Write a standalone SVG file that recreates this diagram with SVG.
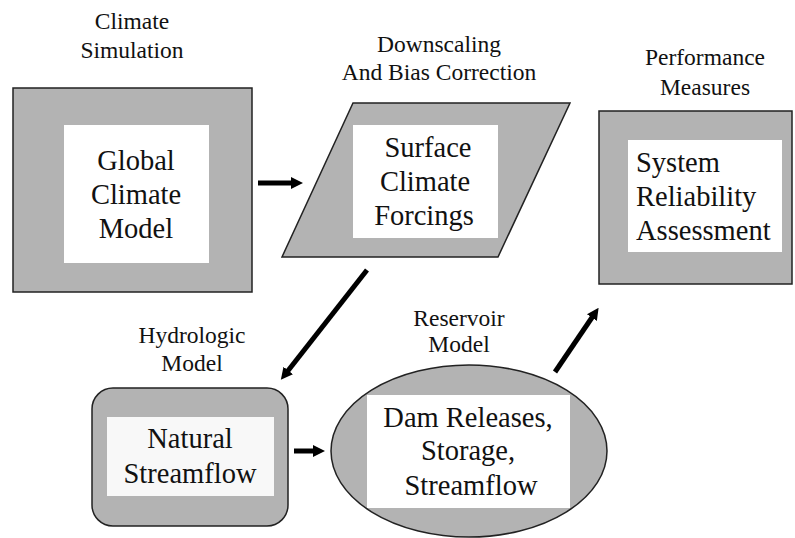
<svg xmlns="http://www.w3.org/2000/svg" width="795" height="538" viewBox="0 0 795 538">
<style>
.shape{fill:#b3b3b3;stroke:#222;stroke-width:1.5}
.inner{fill:#ffffff;stroke:none}
text{font-family:'Liberation Serif','DejaVu Serif','Noto Serif',serif;fill:#111}
.main{font-size:28.5px}
.lbl{font-size:23.5px;text-anchor:middle}
.c{text-anchor:middle}
.arrow{stroke:#000;stroke-width:5;fill:none;marker-end:url(#ah)}
</style>
<defs>
<marker id="ah" viewBox="0 0 12 12" markerWidth="12" markerHeight="12" markerUnits="userSpaceOnUse" refX="2" refY="6" orient="auto">
<path d="M0,0 L12,6 L0,12 z" fill="#000"/>
</marker>
</defs>
<rect width="795" height="538" fill="#fff"/>

<g id="gcm">
<rect class="shape" x="13" y="88" width="239" height="204"/>
<rect class="inner" x="64" y="125" width="145" height="138"/>
<text class="main c" x="136" y="170">Global</text>
<text class="main c" x="136" y="204">Climate</text>
<text class="main c" x="136" y="238">Model</text>
<text class="lbl" x="132" y="29">Climate</text>
<text class="lbl" x="132" y="58">Simulation</text>
</g>

<g id="scf">
<polygon class="shape" points="353,103 570,103 498,257 282,257"/>
<rect class="inner" x="353" y="125" width="145" height="113"/>
<text class="main c" x="428" y="157">Surface</text>
<text class="main c" x="425" y="191">Climate</text>
<text class="main c" x="424" y="225">Forcings</text>
<text class="lbl" x="439" y="52">Downscaling</text>
<text class="lbl" x="439" y="80">And Bias Correction</text>
</g>

<g id="perf">
<rect class="shape" x="599" y="111" width="193" height="173"/>
<rect class="inner" x="628" y="140" width="154" height="112"/>
<text class="main" x="636" y="172">System</text>
<text class="main" x="636" y="206">Reliability</text>
<text class="main" x="636" y="240">Assessment</text>
<text class="lbl" x="705" y="65">Performance</text>
<text class="lbl" x="705" y="95">Measures</text>
</g>

<g id="hydro">
<rect class="shape" x="92" y="388" width="196" height="138" rx="21" ry="21"/>
<rect x="107" y="417" width="167" height="79" fill="#f8f8f8"/>
<text class="main c" x="190" y="448">Natural</text>
<text class="main c" x="190" y="483">Streamflow</text>
<text class="lbl" x="192" y="343">Hydrologic</text>
<text class="lbl" x="192" y="371">Model</text>
</g>

<g id="reservoir">
<ellipse class="shape" cx="469" cy="451" rx="138" ry="86"/>
<rect class="inner" x="367" y="395" width="203" height="113"/>
<text class="main c" x="468" y="427">Dam Releases,</text>
<text class="main c" x="468" y="460">Storage,</text>
<text class="main c" x="471" y="495">Streamflow</text>
<text class="lbl" x="459" y="326">Reservoir</text>
<text class="lbl" x="459" y="352">Model</text>
</g>

<g id="connectors">
<line class="arrow" x1="258" y1="183" x2="293" y2="183"/>
<line class="arrow" x1="294" y1="451" x2="315" y2="451"/>
<line class="arrow" x1="367" y1="270" x2="287" y2="372"/>
<line class="arrow" x1="555" y1="372" x2="593" y2="316"/>
</g>
</svg>
